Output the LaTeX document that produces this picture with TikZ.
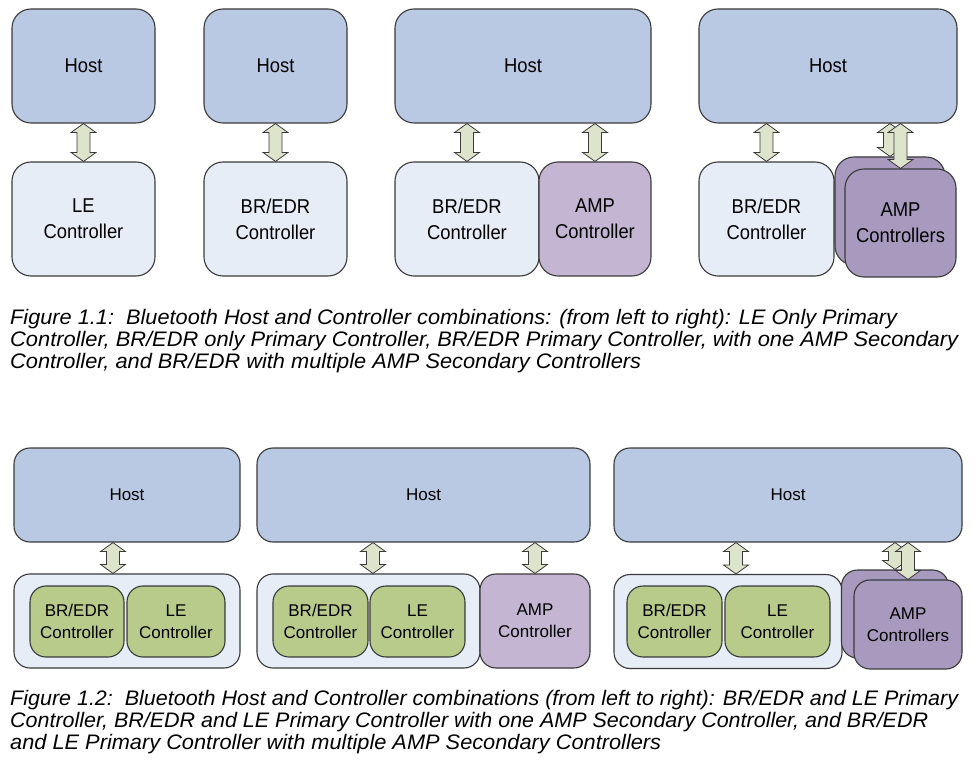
\documentclass[tikz,border=0pt]{standalone}
\usepackage{graphicx}
\usepackage{fontspec}
\setmainfont{Liberation Sans}
\newfontfamily\topfont[FakeStretch=0.92]{Liberation Sans}
\usetikzlibrary{calc}
\definecolor{hostc}{HTML}{B9C9E3}
\definecolor{ctrlc}{HTML}{E7EDF7}
\definecolor{ampl}{HTML}{C4B6D2}
\definecolor{ampd}{HTML}{A899BF}
\definecolor{grnc}{HTML}{B8CB8B}
\definecolor{arrc}{HTML}{DEE3CC}
\definecolor{edgec}{HTML}{3A3A3A}
\tikzset{
  anybox/.style={draw=edgec, line width=1.1pt, align=center, inner sep=0pt, text=black},
  topbox/.style={anybox, rounded corners=19pt, font=\topfont\fontsize{20}{26}\selectfont},
  botbox/.style={anybox, rounded corners=16pt, font=\fontsize{17}{22}\selectfont},
  thost/.style={topbox, fill=hostc},
  tctrl/.style={topbox, fill=ctrlc},
  tampl/.style={topbox, fill=ampl},
  tampd/.style={topbox, fill=ampd},
  bhost/.style={botbox, fill=hostc},
  bcont/.style={botbox, fill=ctrlc},
  bgrn/.style={botbox, fill=grnc},
  bampl/.style={botbox, fill=ampl},
  bampd/.style={botbox, fill=ampd},
  arr/.style={fill=arrc, draw=edgec, line width=0.8pt, line join=miter},
  capt/.style={anchor=base west, inner sep=0pt, font=\itshape\fontsize{21}{23}\selectfont}
}
\newcommand\udarrow[2]{%
  \filldraw[arr] let \p1=#1, \p2=#2 in
  ({\x1},{\y1}) -- ({\x1+12.5pt},{\y1-9pt}) -- ({\x1+6.5pt},{\y1-9pt}) --
  ({\x1+6.5pt},{\y2+9pt}) -- ({\x1+12.5pt},{\y2+9pt}) -- ({\x1},{\y2}) --
  ({\x1-12.5pt},{\y2+9pt}) -- ({\x1-6.5pt},{\y2+9pt}) -- ({\x1-6.5pt},{\y1-9pt}) --
  ({\x1-12.5pt},{\y1-9pt}) -- cycle;}
\begin{document}
\begin{tikzpicture}[x=1pt,y=-1pt]
\useasboundingbox (0,0) rectangle (975,767);
% ---------- Figure 1.1 ----------
\node[thost, minimum width=143pt, minimum height=114pt] (h1) at (83.5,66) {Host};
\node[tctrl, minimum width=143pt, minimum height=114pt] (c1) at (83.5,219) {LE\\Controller};
\udarrow{(h1.south)}{(c1.north)}

\node[thost, minimum width=143pt, minimum height=114pt] (h2) at (275.5,66) {Host};
\node[tctrl, minimum width=143pt, minimum height=114pt] (c2) at (275.5,219) {BR/EDR\\Controller};
\udarrow{(h2.south)}{(c2.north)}

\node[thost, minimum width=256pt, minimum height=114pt] (h3) at (523,66) {Host};
\node[tctrl, minimum width=144pt, minimum height=114pt] (c3a) at (467,219) {BR/EDR\\Controller};
\node[tampl, minimum width=112pt, minimum height=114pt] (c3b) at (595,219) {AMP\\Controller};
\udarrow{(h3.south -| c3a.north)}{(c3a.north)}
\udarrow{(h3.south -| c3b.north)}{(c3b.north)}

\node[thost, minimum width=258pt, minimum height=114pt] (h4) at (828,66) {Host};
\node[tctrl, minimum width=135pt, minimum height=114pt] (c4a) at (766.5,219) {BR/EDR\\Controller};
\udarrow{(h4.south -| c4a.north)}{(c4a.north)}
\node[tampd, minimum width=110pt, minimum height=108pt] (c4b) at (890,211) {};
\udarrow{(h4.south -| c4b.north)}{(c4b.north)}
\node[tampd, minimum width=111pt, minimum height=108pt] (c4c) at (900.5,223) {AMP\\Controllers};
\udarrow{(h4.south -| c4c.north)}{(c4c.north)}

\node[capt] (cap1a) at (10,325) {\resizebox{887pt}{\height}{Figure 1.1:\ \ Bluetooth Host and Controller combinations: (from left to right): LE Only Primary}};
\node[capt] (cap1b) at (10,347) {\resizebox{948pt}{\height}{Controller, BR/EDR only Primary Controller, BR/EDR Primary Controller, with one AMP Secondary}};
\node[capt] (cap1c) at (10,369) {\resizebox{631pt}{\height}{Controller, and BR/EDR with multiple AMP Secondary Controllers}};

% ---------- Figure 1.2 ----------
\node[bhost, minimum width=226pt, minimum height=94pt] (h5) at (127,495) {Host};
\node[bcont, minimum width=226pt, minimum height=94pt] (k5) at (127,621) {};
\node[bgrn, minimum width=94pt, minimum height=71pt] (g5a) at (77,621.5) {BR/EDR\\Controller};
\node[bgrn, minimum width=98pt, minimum height=71pt] (g5b) at (176,621.5) {LE\\Controller};
\coordinate (x5) at (113,0);
\udarrow{(h5.south -| x5)}{(k5.north -| x5)}

\node[bhost, minimum width=333pt, minimum height=94pt] (h6) at (423.5,495) {Host};
\node[bcont, minimum width=223pt, minimum height=94pt] (k6) at (368.5,621) {};
\node[bgrn, minimum width=95pt, minimum height=71pt] (g6a) at (320.5,621.5) {BR/EDR\\Controller};
\node[bgrn, minimum width=95pt, minimum height=71pt] (g6b) at (417.5,621.5) {LE\\Controller};
\node[bampl, minimum width=110pt, minimum height=94pt] (a6) at (535,621) {AMP\\Controller};
\coordinate (x6) at (373,0);
\udarrow{(h6.south -| x6)}{(k6.north -| x6)}
\udarrow{(h6.south -| a6.north)}{(a6.north)}

\node[bhost, minimum width=348pt, minimum height=94pt] (h7) at (788,495) {Host};
\node[bcont, minimum width=228pt, minimum height=94pt] (k7) at (728,621.5) {};
\node[bgrn, minimum width=95pt, minimum height=71pt] (g7a) at (674.5,621.5) {BR/EDR\\Controller};
\node[bgrn, minimum width=105pt, minimum height=71pt] (g7b) at (777.5,621.5) {LE\\Controller};
\coordinate (x7) at (736,0);
\udarrow{(h7.south -| x7)}{(k7.north -| x7)}
\node[bampd, minimum width=107pt, minimum height=88pt] (a7b) at (895,614) {};
\udarrow{(h7.south -| a7b.north)}{(a7b.north)}
\node[bampd, minimum width=108pt, minimum height=89pt] (a7c) at (908,624.5) {AMP\\Controllers};
\udarrow{(h7.south -| a7c.north)}{(a7c.north)}

\node[capt] (cap2a) at (10,705) {\resizebox{948pt}{\height}{Figure 1.2:\ \ Bluetooth Host and Controller combinations (from left to right): BR/EDR and LE Primary}};
\node[capt] (cap2b) at (10,727) {\resizebox{918pt}{\height}{Controller, BR/EDR and LE Primary Controller with one AMP Secondary Controller, and BR/EDR}};
\node[capt] (cap2c) at (10,749) {\resizebox{651pt}{\height}{and LE Primary Controller with multiple AMP Secondary Controllers}};
\end{tikzpicture}
\end{document}
